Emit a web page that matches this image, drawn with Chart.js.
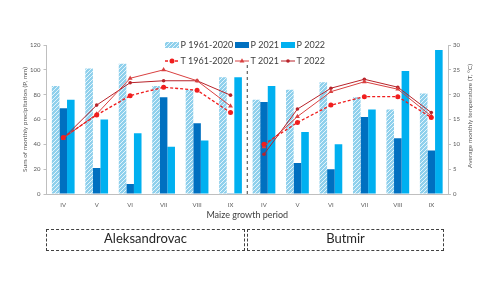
<!DOCTYPE html>
<html>
<head>
<meta charset="utf-8">
<script src="https://cdn.jsdelivr.net/npm/chart.js"></script>
<style>
  html, body { margin: 0; padding: 0; background: #fff; }
  #wrap { position: relative; width: 500px; height: 281px; }
  .site {
    position: absolute; top: 229px; height: 22px; box-sizing: border-box;
    border: 1px dashed #404040; text-align: center; line-height: 20px;
    font: 13px Lato, sans-serif; color: #262626;
  }
</style>
</head>
<body>
<div id="wrap">
  <canvas id="climateChart" width="500" height="281"></canvas>
  <div class="site" style="left:46px;width:199px;">Aleksandrovac</div>
  <div class="site" style="left:247px;width:197px;">Butmir</div>
</div>
<script>
// Maize growth period, monthly precipitation (mm) and temperature (°C)
const months = ['IV', 'V', 'VI', 'VII', 'VIII', 'IX'];
const precipTicks = [0, 20, 40, 60, 80, 100, 120];
const tempTicks = [0, 5, 10, 15, 20, 25, 30];

// Aleksandrovac
const pNormA = [87, 101, 105, 87, 84, 94];
const p2021A = [69, 21, 8, 78, 57, 0.6];
const p2022A = [76, 60, 49, 38, 43, 94];
const tNormA = [11.4, 15.9, 19.8, 21.5, 20.9, 16.4];
const t2021A = [11.2, 16.1, 23.3, 25.0, 22.8, 17.7];
const t2022A = [11.2, 17.9, 22.4, 22.8, 22.8, 19.9];

// Butmir
const pNormB = [76, 84, 90, 78, 68, 81];
const p2021B = [74, 25, 20, 62, 45, 35];
const p2022B = [87, 50, 40, 68, 99, 116];
const tNormB = [10.0, 14.4, 17.9, 19.6, 19.6, 15.4];
const t2021B = [9.5, 15.6, 20.6, 22.6, 21.1, 15.7];
const t2022B = [8.0, 17.1, 21.3, 23.1, 21.5, 16.4];

const labels = months.concat(months);
const gap = months.map(() => null);

const colors = {
    pNorm: '#8fd0ec',
    p2021: '#0070c0',
    p2022: '#00b0f0',
    tNorm: '#f01e1e',
    t2021: '#d94040',
    t2022: '#b8232a',
    axis: '#bfbfbf',
    tick: '#595959',
    text: '#404040'
};

function hatchPattern() {
    const c = document.createElement('canvas');
    c.width = 4; c.height = 4;
    const g = c.getContext('2d');
    g.fillStyle = colors.pNorm;
    g.fillRect(0, 0, 4, 4);
    g.strokeStyle = '#e4f5fc';
    g.lineWidth = 1;
    g.beginPath();
    g.moveTo(0, 4); g.lineTo(4, 0);
    g.moveTo(-1, 1); g.lineTo(1, -1);
    g.moveTo(3, 5); g.lineTo(5, 3);
    g.stroke();
    return g.createPattern(c, 'repeat');
}
const hatch = hatchPattern();

function barSet(label, a, b, color) {
    return {
        type: 'bar', label, data: a.concat(b), yAxisID: 'y', order: 2,
        backgroundColor: color, borderWidth: 0,
        categoryPercentage: 0.68, barPercentage: 1.0
    };
}

function lineSet(label, data, color, style) {
    return Object.assign({
        type: 'line', label, data, yAxisID: 'y1', order: 1,
        borderColor: color, backgroundColor: color, borderWidth: 1,
        pointBorderWidth: 0, spanGaps: false, tension: 0
    }, style);
}

const normStyle = { borderDash: [3, 2], borderWidth: 1.3, pointStyle: 'circle', pointRadius: 2.5 };
const s2021Style = { pointStyle: 'triangle', pointRadius: 2.8 };
const s2022Style = { pointStyle: 'circle', pointRadius: 1.8 };

const datasets = [
    barSet('P 1961-2020', pNormA, pNormB, hatch),
    barSet('P 2021', p2021A, p2021B, colors.p2021),
    barSet('P 2022', p2022A, p2022B, colors.p2022),
    lineSet('T 1961-2020', tNormA.concat(gap), colors.tNorm, normStyle),
    lineSet('T 2021', t2021A.concat(gap), colors.t2021, s2021Style),
    lineSet('T 2022', t2022A.concat(gap), colors.t2022, s2022Style),
    lineSet('T 1961-2020', gap.concat(tNormB), colors.tNorm, normStyle),
    lineSet('T 2021', gap.concat(t2021B), colors.t2021, s2021Style),
    lineSet('T 2022', gap.concat(t2022B), colors.t2022, s2022Style)
];

// legend, site divider and right axis title
const extras = {
    id: 'extras',
    afterDraw(chart) {
        const ctx = chart.ctx;
        const x = chart.scales.x;
        const area = chart.chartArea;
        ctx.save();

        const midX = x.getPixelForValue(5.5);
        ctx.strokeStyle = '#404040';
        ctx.lineWidth = 1;
        ctx.setLineDash([3, 3]);
        ctx.beginPath();
        ctx.moveTo(midX, 65);
        ctx.lineTo(midX, area.bottom);
        ctx.stroke();
        ctx.setLineDash([]);

        ctx.font = '9px Lato';
        ctx.fillStyle = colors.text;
        ctx.textBaseline = 'middle';
        ctx.textAlign = 'left';

        const row1 = 45, row2 = 61;
        const cols = [165, 235, 281];
        const bars = [[hatch, 'P 1961-2020'], [colors.p2021, 'P 2021'], [colors.p2022, 'P 2022']];
        bars.forEach(([fill, text], i) => {
            ctx.fillStyle = fill;
            ctx.fillRect(cols[i], row1 - 3, 14, 6);
            ctx.fillStyle = colors.text;
            ctx.fillText(text, cols[i] + 15.5, row1 + 0.5);
        });

        const lines = [
            [colors.tNorm, 'T 1961-2020', normStyle],
            [colors.t2021, 'T 2021', s2021Style],
            [colors.t2022, 'T 2022', s2022Style]
        ];
        lines.forEach(([color, text, st], i) => {
            const x0 = cols[i];
            ctx.strokeStyle = color;
            ctx.lineWidth = st.borderWidth || 1;
            ctx.setLineDash(st.borderDash || []);
            ctx.beginPath();
            ctx.moveTo(x0, row2);
            ctx.lineTo(x0 + 14, row2);
            ctx.stroke();
            ctx.setLineDash([]);
            ctx.fillStyle = color;
            Chart.helpers.drawPoint(ctx, { pointStyle: st.pointStyle, radius: st.pointRadius, borderWidth: 0 }, x0 + 7, row2);
            ctx.fillStyle = colors.text;
            ctx.fillText(text, x0 + 15.5, row2 + 0.5);
        });

        ctx.translate(470, 116);
        ctx.rotate(-Math.PI / 2);
        ctx.textAlign = 'center';
        ctx.font = '6.5px Lato';
        ctx.fillStyle = colors.tick;
        ctx.fillText('Average monthly temperature (T, °C)', 0, 0);
        ctx.restore();
    }
};

const tickFont = { family: 'Lato', size: 6 };

new Chart(document.getElementById('climateChart'), {
    data: { labels, datasets },
    plugins: [extras],
    options: {
        responsive: false,
        animation: false,
        layout: { padding: { top: 45, left: 0, right: 0, bottom: 61 } },
        plugins: {
            legend: { display: false },
            tooltip: { enabled: false }
        },
        scales: {
            x: {
                afterFit: (s) => { s.height = 26; },
                grid: { display: false, drawTicks: false },
                border: { display: true, color: colors.axis },
                ticks: { color: colors.tick, font: tickFont, padding: 7, maxRotation: 0 },
                title: {
                    display: true, text: 'Maize growth period', color: colors.text,
                    font: { family: 'Lato', size: 9 }, padding: 0
                }
            },
            y: {
                position: 'left',
                min: 0, max: 120,
                afterFit: (s) => { s.width = 46.5; },
                afterBuildTicks: (s) => { s.ticks = precipTicks.map(v => ({ value: v })); },
                grid: { drawOnChartArea: false, drawTicks: true, tickLength: 3, color: colors.axis },
                border: { color: colors.axis },
                ticks: { color: colors.tick, font: tickFont, padding: 3 },
                title: {
                    display: true, text: 'Sum of monthly precipitation (P, mm)', color: colors.tick,
                    font: { family: 'Lato', size: 6.5 }, padding: { top: 21, bottom: 0 }
                }
            },
            y1: {
                position: 'right',
                min: 0, max: 30,
                afterFit: (s) => { s.width = 52; },
                afterBuildTicks: (s) => { s.ticks = tempTicks.map(v => ({ value: v })); },
                grid: { drawOnChartArea: false, drawTicks: true, tickLength: 3, color: colors.axis },
                border: { color: colors.axis },
                ticks: { color: colors.tick, font: tickFont, padding: 2 }
            }
        }
    }
});
</script>
</body>
</html>
